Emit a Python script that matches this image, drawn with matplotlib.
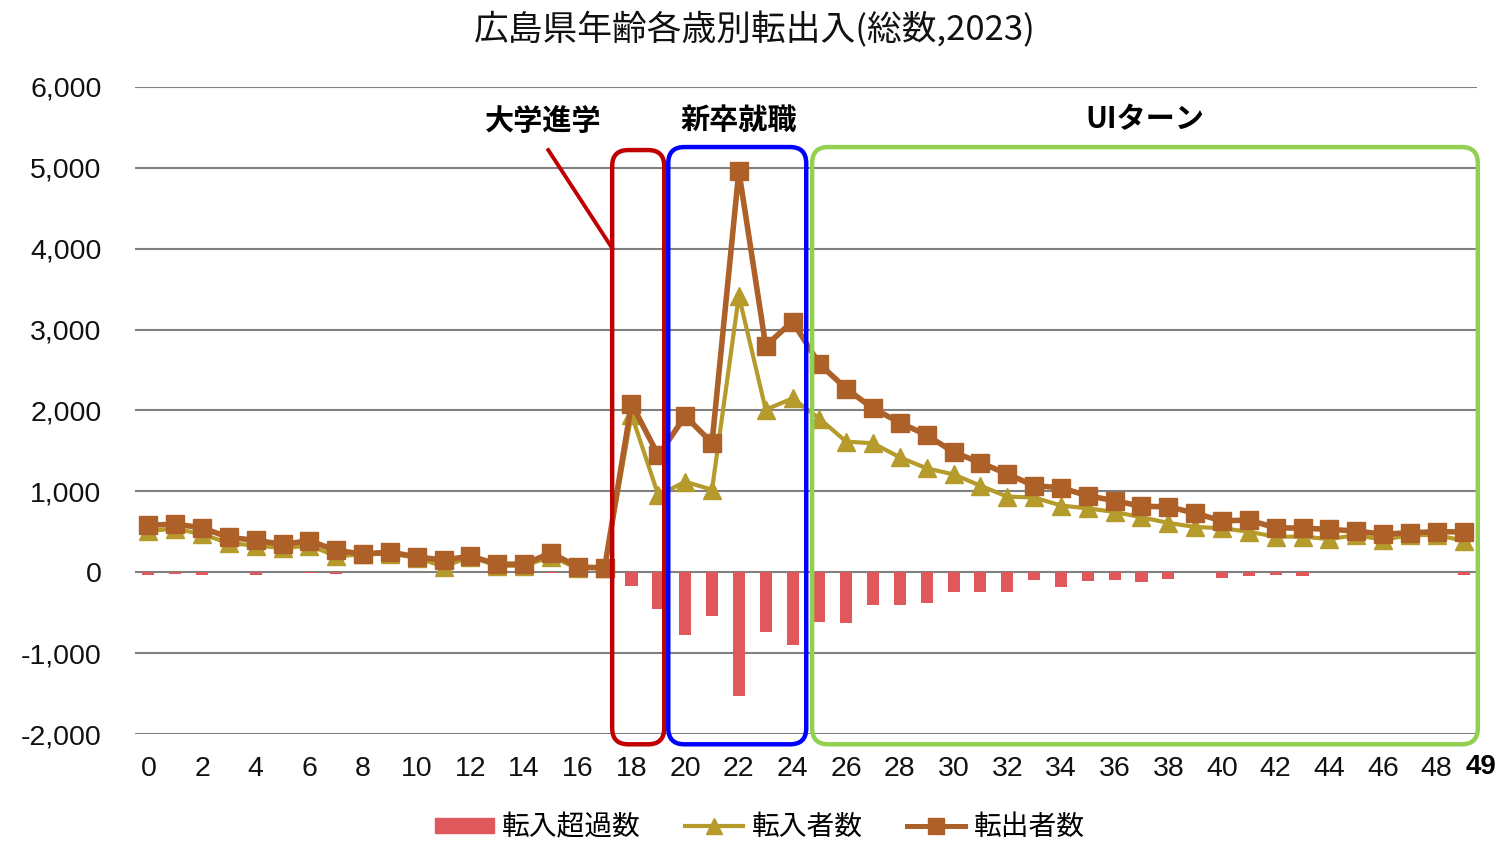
import numpy as np
import matplotlib
matplotlib.use('Agg')
import matplotlib.pyplot as plt
from matplotlib.patches import FancyBboxPatch, Patch
from matplotlib.lines import Line2D
from matplotlib.ticker import FuncFormatter

plt.rcParams['font.family'] = ['Noto Sans CJK JP', 'DejaVu Sans']

# 年齢 0-49 歳
ages = np.arange(0, 50)

# 転出者数
out_count = [580, 595, 550, 430, 395, 345, 390, 270, 225, 250,
             190, 150, 200, 100, 100, 240, 65, 55, 2085, 1445,
             1930, 1600, 4960, 2800, 3100, 2575, 2270, 2025, 1850, 1695,
             1485, 1355, 1215, 1070, 1045, 945, 885, 815, 810, 730,
             635, 645, 550, 545, 530, 510, 470, 490, 500, 500]

# 転入者数
in_count = [510, 540, 470, 360, 330, 300, 330, 200, 220, 230,
            180, 70, 190, 80, 80, 190, 50, 50, 1950, 950,
            1120, 1020, 3420, 2010, 2150, 1900, 1615, 1595, 1420, 1285,
            1210, 1070, 935, 925, 825, 790, 745, 680, 610, 560,
            545, 500, 440, 440, 410, 460, 400, 460, 460, 390]

# 転入超過数
net_count = [-30, -20, -40, 0, -30, 0, -15, -20, 0, 0,
             0, -15, 0, 0, 0, -15, 0, 0, -170, -450,
             -780, -540, -1525, -740, -905, -620, -630, -410, -410, -385,
             -250, -250, -250, -100, -185, -105, -95, -115, -85, 0,
             -75, -50, -40, -50, 0, 0, 0, 0, 0, -40]

xtick_vals = list(range(0, 49, 2))
ytick_vals = [-2000, -1000, 0, 1000, 2000, 3000, 4000, 5000, 6000]

c_net = '#E0575C'
c_in = '#B59A2C'
c_out = '#AD6128'

fig = plt.figure(figsize=(15.01, 8.41), dpi=100)
ax = fig.add_axes([0.0899, 0.1272, 0.8941, 0.7694])

ax.bar(ages, net_count, width=0.45, color=c_net, zorder=2)
ax.plot(ages, in_count, color=c_in, lw=3, marker='^', ms=12.5, zorder=3)
ax.plot(ages, out_count, color=c_out, lw=4, marker='s', ms=13, zorder=4)

ax.set_xlim(-0.5, 49.5)
ax.set_ylim(-2000, 6000)
ax.set_yticks(ytick_vals)
ax.set_xticks(xtick_vals)
ax.yaxis.set_major_formatter(FuncFormatter(lambda v, p: f'{int(v):,}'))
ax.grid(axis='y', color='#808080', lw=1.5, zorder=0)
for s in ax.spines.values():
    s.set_visible(False)
ax.tick_params(axis='both', length=0, labelsize=20.5, colors='#111111')
ax.tick_params(axis='y', pad=24)
ax.tick_params(axis='x', pad=16)
for lab in ax.get_xticklabels() + ax.get_yticklabels():
    lab.set_fontfamily('Liberation Sans')

fig.text(1481 / 1501, 1 - 767 / 841, '49', fontsize=20, fontweight='bold',
         family='Liberation Sans', ha='center', va='center')

fig.text(0.503, 1 - 30 / 841, '広島県年齢各歳別転出入(総数,2023)', fontsize=25,
         color='#111111', ha='center', va='center')

# 枠
px_x = ax.get_position().width * fig.get_size_inches()[0] * fig.dpi / 50
px_y = ax.get_position().height * fig.get_size_inches()[1] * fig.dpi / 8000
aspect = px_x / px_y
boxes = [(17.28, 19.22, 5220, '#C00000'),
         (19.37, 24.51, 5257, '#0000FF'),
         (24.73, 49.53, 5257, '#92D050')]
for x0, x1, top, col in boxes:
    bottom = -2127
    p = FancyBboxPatch((x0, bottom), x1 - x0, top - bottom,
                       boxstyle='round,pad=0,rounding_size=0.6',
                       mutation_aspect=aspect, fill=False, ec=col, lw=3.2,
                       clip_on=False, zorder=5)
    ax.add_patch(p)

ax.plot([14.9, 17.28], [5220, 4007], color='#C00000', lw=2.8, clip_on=False, zorder=5)

ax.text(14.71, 5578, '大学進学', fontsize=21, fontweight='bold', ha='center', va='center')
ax.text(22.01, 5590, '新卒就職', fontsize=21, fontweight='bold', ha='center', va='center')
ax.text(37.13, 5603, 'UIターン', fontsize=21, fontweight='bold', ha='center', va='center')

handles = [Patch(color=c_net),
           Line2D([], [], color=c_in, lw=3, marker='^', ms=11),
           Line2D([], [], color=c_out, lw=3.6, marker='s', ms=11)]
labels = ['転入超過数', '転入者数', '転出者数']
fig.legend(handles, labels, loc='center', bbox_to_anchor=(760 / 1501, 1 - 827 / 841),
           ncol=3, frameon=False, fontsize=20, handlelength=2.1, handleheight=0.45,
           handletextpad=0.3, columnspacing=1.6)

fig.savefig('out.png', dpi=100)
